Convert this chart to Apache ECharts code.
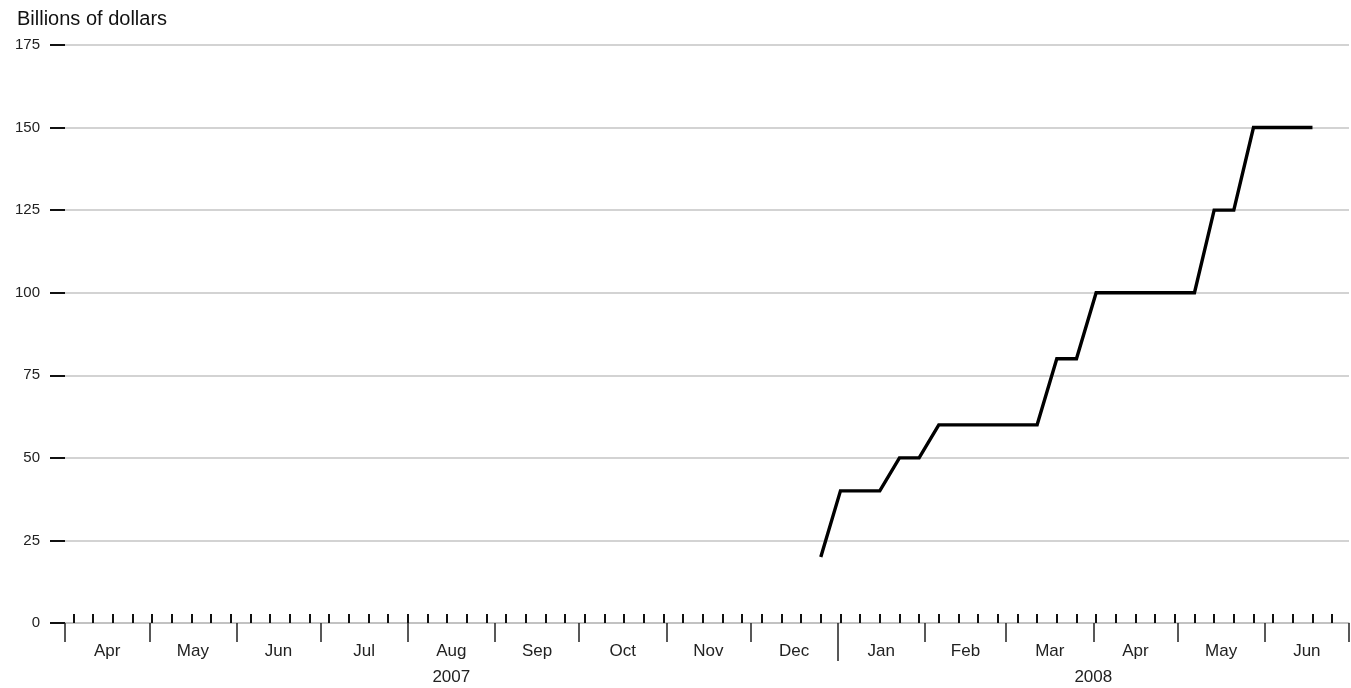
<!DOCTYPE html>
<html>
<head>
<meta charset="utf-8">
<script src="https://cdn.jsdelivr.net/npm/echarts@6/dist/echarts.min.js"></script>
<style>
html,body{margin:0;padding:0;background:#fff;}
#main{width:1351px;height:688px;}
</style>
</head>
<body>
<div id="main"></div>
<script>
// weekly (Wednesday) figures, billions of dollars
var dates = ['2007-12-26','2008-01-02','2008-01-09','2008-01-16','2008-01-23','2008-01-30',
  '2008-02-06','2008-02-13','2008-02-20','2008-02-27','2008-03-05','2008-03-12',
  '2008-03-19','2008-03-26','2008-04-02','2008-04-09','2008-04-16','2008-04-23',
  '2008-04-30','2008-05-07','2008-05-14','2008-05-21','2008-05-28','2008-06-04',
  '2008-06-11','2008-06-18'];
var values = [20,40,40,40,50,50,
  60,60,60,60,60,60,
  80,80,100,100,100,100,
  100,100,125,125,150,150,
  150,150];

var monthStarts = ['2007-04-01','2007-05-01','2007-06-01','2007-07-01','2007-08-01','2007-09-01',
  '2007-10-01','2007-11-01','2007-12-01','2008-01-01','2008-02-01','2008-03-01',
  '2008-04-01','2008-05-01','2008-06-01','2008-07-01'];
var monthNames = ['Apr','May','Jun','Jul','Aug','Sep','Oct','Nov','Dec','Jan','Feb','Mar','Apr','May','Jun'];
var yearStarts = ['2007-04-01','2008-01-01','2008-07-01'];
var yearNames = ['2007','2008'];
var firstWeekTick = '2007-04-04';
var yTicks = [0,25,50,75,100,125,150,175];

function ts(s){
  var p = s.split('-');
  return Date.UTC(+p[0], +p[1]-1, +p[2]);
}
var DAY = 86400000;
var xMin = ts(monthStarts[0]);
var xMax = ts(monthStarts[monthStarts.length-1]);

var weekTicks = [];
for (var t = ts(firstWeekTick); t <= xMax; t += 7*DAY) weekTicks.push(t);

var monthTicks = monthStarts.map(ts);
var monthMid = [], monthLabelMap = {};
for (var i = 0; i < monthNames.length; i++) {
  var m = (monthTicks[i] + monthTicks[i+1]) / 2;
  monthMid.push(m);
  monthLabelMap[m] = monthNames[i];
}
var yearTicks = [ts(yearStarts[1])];
var yearMid = [], yearLabelMap = {};
for (var j = 0; j < yearNames.length; j++) {
  var y = (ts(yearStarts[j]) + ts(yearStarts[j+1])) / 2;
  yearMid.push(y);
  yearLabelMap[y] = yearNames[j];
}

var seriesData = dates.map(function(d, k){ return [ts(d), values[k]]; });

var FONT = 'Liberation Sans, Arial, Helvetica, sans-serif';

var chart = echarts.init(document.getElementById('main'));
var option = {
  animation: false,
  backgroundColor: '#fff',
  textStyle: {fontFamily: FONT},
  title: {
    text: 'Billions of dollars',
    left: 12, top: 4,
    textStyle: {fontSize: 20, fontWeight: 'normal', color: '#111', fontFamily: FONT}
  },
  grid: {left: 65, right: 2, top: 45, bottom: 65, containLabel: false},
  xAxis: [{
    type: 'value', min: xMin, max: xMax, position: 'bottom',
    axisLine: {show: true, lineStyle: {color: '#bdbdbd', width: 1.5}},
    axisTick: {show: true, inside: true, length: 9, customValues: weekTicks,
      lineStyle: {color: '#111', width: 2}},
    axisLabel: {show: false},
    splitLine: {show: false}
  }, {
    type: 'value', min: xMin, max: xMax, position: 'bottom',
    axisLine: {show: false},
    axisTick: {show: true, length: 19, customValues: monthTicks,
      lineStyle: {color: '#222', width: 1.5}},
    axisLabel: {show: true, customValues: monthMid, margin: 20, fontSize: 17,
      color: '#222', fontFamily: FONT,
      formatter: function(v){ return monthLabelMap[v] || ''; }},
    splitLine: {show: false}
  }, {
    type: 'value', min: xMin, max: xMax, position: 'bottom',
    axisLine: {show: false},
    axisTick: {show: true, length: 38, customValues: yearTicks,
      lineStyle: {color: '#222', width: 1.5}},
    axisLabel: {show: true, customValues: yearMid, margin: 46, fontSize: 17,
      color: '#222', fontFamily: FONT,
      formatter: function(v){ return yearLabelMap[v] || ''; }},
    splitLine: {show: false}
  }],
  yAxis: {
    type: 'value', min: yTicks[0], max: yTicks[yTicks.length-1], interval: 25,
    axisLine: {show: false},
    axisTick: {show: true, length: 15, lineStyle: {color: '#111', width: 2}},
    axisLabel: {margin: 25, fontSize: 15, color: '#222', fontFamily: FONT},
    splitLine: {show: true, lineStyle: {color: '#c4c4c4', width: 1.5}}
  },
  series: [{
    type: 'line',
    xAxisIndex: 0,
    data: seriesData,
    symbol: 'none',
    lineStyle: {color: '#000', width: 3.4, join: 'miter'},
    z: 5
  }]
};
chart.setOption(option);
</script>
</body>
</html>
